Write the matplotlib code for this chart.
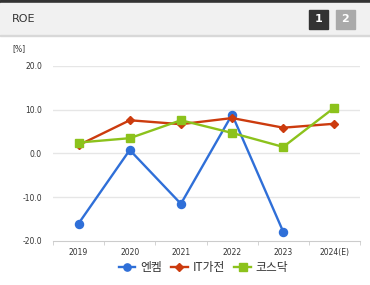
import matplotlib.pyplot as plt
from matplotlib.patches import Rectangle

plt.rcParams['font.family'] = ['Noto Sans CJK KR', 'DejaVu Sans']

years = ['2019', '2020', '2021', '2022', '2023', '2024(E)']
enchem = [-16.0, 0.8, -11.5, 8.9, -17.9, None]
it_home = [1.9, 7.6, 6.7, 8.1, 5.9, 6.8]
kosdaq = [2.5, 3.5, 7.6, 4.7, 1.5, 10.5]
yticks = [-20, -10, 0, 10, 20]

W, H = 370, 285
fig = plt.figure(figsize=(W / 100, H / 100), dpi=100)

# header band
fig.patches.append(Rectangle((0, 1 - 3 / H), 1, 3 / H, transform=fig.transFigure,
                             color='#333333', zorder=0))
fig.patches.append(Rectangle((0, 1 - 35 / H), 1, 32 / H, transform=fig.transFigure,
                             color='#f1f1f1', zorder=0))
fig.patches.append(Rectangle((0, 1 - 36 / H), 1, 1 / H, transform=fig.transFigure,
                             color='#d8d8d8', zorder=0))
fig.text(12 / W, 1 - 19 / H, 'ROE', fontsize=8, color='#333333', va='center',
         family='DejaVu Sans')
for x0, c, t in [(309, '#333333', '1'), (336, '#aaaaaa', '2')]:
    fig.patches.append(Rectangle((x0 / W, 1 - 29 / H), 19 / W, 19 / H,
                                 transform=fig.transFigure, color=c, zorder=1))
    fig.text((x0 + 9.5) / W, 1 - 19.5 / H, t, fontsize=8, color='white',
             fontweight='bold', ha='center', va='center', family='DejaVu Sans')

fig.text(12 / W, 1 - 49 / H, '[%]', fontsize=5.5, color='#333333', va='center',
         family='DejaVu Sans')

ax = fig.add_axes([53 / W, 1 - 241 / H, 307 / W, 175 / H])
x = list(range(len(years)))

ax.plot(x[:5], enchem[:5], color='#2f6fd8', lw=1.7, marker='o', ms=5.8,
        label='엔켐', zorder=3)
ax.plot(x, it_home, color='#cc3b0e', lw=1.7, marker='D', ms=4,
        label='IT가전', zorder=4)
ax.plot(x, kosdaq, color='#8cc21c', lw=1.7, marker='s', ms=6,
        label='코스닥', zorder=5)

ax.set_xlim(-0.5, 5.5)
ax.set_ylim(-20, 20)
ax.set_yticks(yticks)
ax.set_yticklabels([f'{v:.1f}' for v in yticks], fontsize=5.5, color='#333333',
                   family='DejaVu Sans')
ax.set_xticks(x)
ax.set_xticklabels(years, fontsize=5.5, color='#333333', family='DejaVu Sans')
ax.set_xticks([i - 0.5 for i in range(len(years) + 1)], minor=True)
ax.tick_params(axis='y', length=0, pad=8)
ax.tick_params(axis='x', which='major', length=0, pad=5)
ax.tick_params(axis='x', which='minor', length=3, color='#cccccc', direction='out')
for v in yticks[1:]:
    ax.axhline(v, color='#e6e6e6', lw=1, zorder=1)
for s in ['top', 'right', 'left']:
    ax.spines[s].set_visible(False)
ax.spines['bottom'].set_color('#cccccc')

ax.legend(loc='upper center', bbox_to_anchor=(0.49, -0.055), ncol=3, frameon=False,
          fontsize=8.5, handlelength=1.4, columnspacing=0.8, handletextpad=0.4,
          labelcolor='#333333', markerscale=0.9)

fig.savefig('out.png', dpi=100)
